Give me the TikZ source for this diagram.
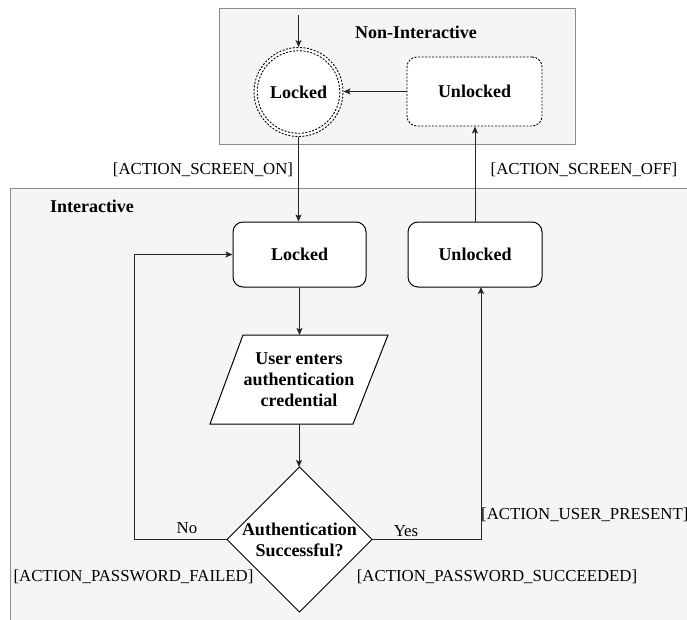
\documentclass[tikz,border=0pt]{standalone}
\usepackage{fontspec}
\setmainfont{Liberation Serif}
\usetikzlibrary{arrows.meta}
\begin{document}
\begin{tikzpicture}[x=1pt,y=-1pt,
  region/.style={draw=black!45, fill=black!4, line width=1.2pt, inner sep=0pt},
  title/.style={font=\fontsize{18}{21}\selectfont\bfseries, inner sep=0pt},
  lbl/.style={font=\fontsize{16.8}{20}\selectfont, inner sep=0pt},
  state/.style={draw=black, fill=white, rounded corners=10pt, line width=1pt,
    minimum width=134pt, minimum height=65pt, inner sep=0pt,
    font=\fontsize{18}{21}\selectfont\bfseries},
  dotline/.style={dash pattern=on 2pt off 1.5pt, line width=0.9pt},
  outline/.style={draw=black, fill=white, line width=1pt, line join=miter},
  arr/.style={draw=black!85, line width=1pt, -{Stealth[length=7pt,width=6pt,inset=1.5pt]}}
]
\useasboundingbox (0,0) rectangle (687,619);

% the two regions
\node[region, anchor=north west, minimum width=356pt, minimum height=136pt] (niBox) at (219,8) {};
\node[region, anchor=north west, minimum width=700pt, minimum height=450pt] (iBox) at (10,188) {};
\node[title] (niTitle) at (416,32) {Non-Interactive};
\node[title] (iTitle) at (92,206) {Interactive};

% non-interactive states
\node[circle, draw=black, fill=white, dotline, minimum size=89pt, inner sep=0pt,
  font=\fontsize{18}{21}\selectfont\bfseries] (niLocked) at (298.5,92) {Locked};
\draw[dotline] (niLocked.center) circle[radius=41.3];
\node[state, dotline, minimum width=135pt, minimum height=69pt] (niUnlocked) at (474.5,91.5) {Unlocked};
\coordinate (start) at (298.5,15);
\draw[arr] (start) -- (niLocked.north);
\draw[arr] (niUnlocked.west) -- (niLocked.east |- niUnlocked.west);

% interactive states
\node[state, minimum width=133pt] (iLocked) at (299.5,254.5) {Locked};
\node[state] (iUnlocked) at (475,254.5) {Unlocked};
\draw[arr] (niLocked.south) -- (niLocked.south |- iLocked.north);
\draw[arr] (iUnlocked.north) -- (iUnlocked.north |- niUnlocked.south);
\node[lbl] (lblOn) at (203,170) {[ACTION\_SCREEN\_ON]};
\node[lbl] (lblOff) at (584,170) {[ACTION\_SCREEN\_OFF]};

% credential input
\draw[outline] (243,335) -- (388,335) -- (353,424) -- (210,424) -- cycle;
\node[title, align=center] (pText) at (299,380) {User enters\\authentication\\credential};
\coordinate (pTop) at (299,335);
\coordinate (pBot) at (299,424);

% decision
\coordinate (dTop) at (299.5,467);
\coordinate (dRight) at (372,539.5);
\coordinate (dBot) at (299.5,612);
\coordinate (dLeft) at (227,539.5);
\draw[outline] (dTop) -- (dRight) -- (dBot) -- (dLeft) -- cycle;
\node[title, align=center] (dText) at (299.5,540) {Authentication\\Successful?};

\draw[arr] (iLocked.south) -- (iLocked.south |- pTop);
\draw[arr] (pBot) -- (pBot |- dTop);

% outcomes
\coordinate (noCorner) at (134,539.5);
\coordinate (yesEnd) at (481,287);
\draw[arr] (dLeft) -- (noCorner) |- (iLocked.west);
\draw[arr] (dRight) -| (yesEnd);
\node[lbl] (noLbl) at (187,528) {No};
\node[lbl] (yesLbl) at (406,531) {Yes};
\node[lbl, anchor=west] (presLbl) at (481,515) {[ACTION\_USER\_PRESENT]};
\node[lbl] (failLbl) at (133.5,577) {[ACTION\_PASSWORD\_FAILED]};
\node[lbl] (succLbl) at (497,577) {[ACTION\_PASSWORD\_SUCCEEDED]};
\end{tikzpicture}
\end{document}
